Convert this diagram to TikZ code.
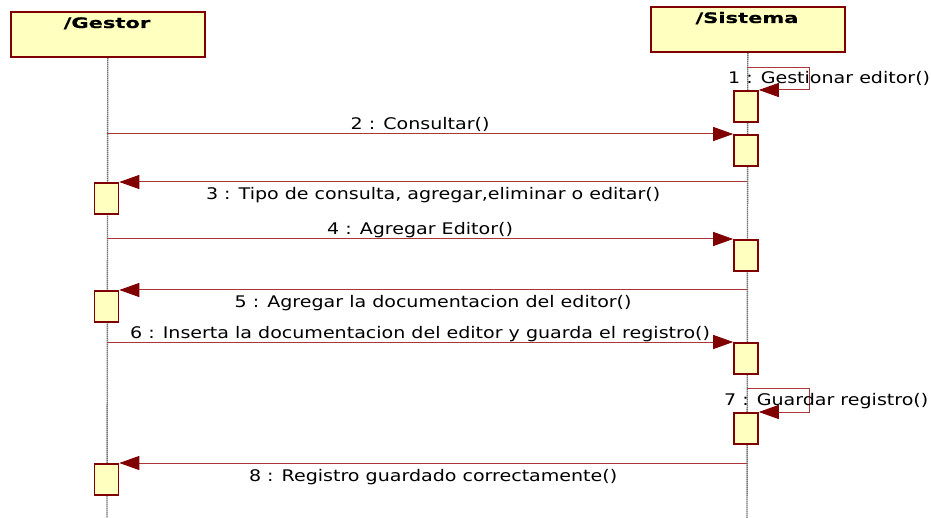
\documentclass[tikz,border=0pt]{standalone}
\usepackage{fontspec}
\setmainfont{DejaVu Sans}[FakeStretch=1.19]
\newfontfamily\titlefont{DejaVu Sans}[FakeStretch=1.45,FakeBold=0.6]
\usetikzlibrary{arrows.meta}
\definecolor{boxfill}{RGB}{255,255,192}
\definecolor{boxedge}{RGB}{128,0,0}
\definecolor{msgline}{RGB}{170,55,55}
\begin{document}
\begin{tikzpicture}[x=1pt,y=-1pt,
  actor/.style={draw=boxedge,fill=boxfill,line width=1.6pt,minimum width=194pt,
    minimum height=45pt,inner sep=0pt,anchor=north west},
  title/.style={font=\titlefont\bfseries\fontsize{14.5}{16}\selectfont,anchor=base},
  lifeline/.style={draw=black!85,line width=1.4pt,dash pattern=on 1pt off 1pt},
  actbox/.style={draw=boxedge,fill=boxfill,line width=1.6pt,minimum width=24pt,
    minimum height=31pt,inner sep=0pt,anchor=north},
  msg/.style={draw=msgline,line width=1pt,
    -{Triangle[length=20pt,width=14pt,fill=boxedge,color=boxedge]}},
  lbl/.style={font=\fontsize{16}{18}\selectfont,anchor=base,inner sep=0pt}]
\useasboundingbox (0,0) rectangle (931,518);

% participants
\node[actor] (gestor) at (10,11) {};
\node[actor] (sistema) at (650,6) {};
\node[title] at (107,28) {/Gestor};
\node[title] at (747,23) {/Sistema};

% lifelines
\coordinate (gl) at (107,518);
\coordinate (sl) at (747,518);
\draw[lifeline] (gestor.south) -- (gl);
\draw[lifeline] (sistema.south) -- (sl);

% activation bars
\node[actbox] (a1) at (746,90) {};
\node[actbox] (a2) at (746,134) {};
\node[actbox] (g3) at (106.5,182) {};
\node[actbox] (a4) at (746,239) {};
\node[actbox] (g5) at (106.5,290) {};
\node[actbox] (a6) at (746,342) {};
\node[actbox] (a7) at (746,412) {};
\node[actbox] (g8) at (106.5,463) {};

% 1: self call
\draw[msg] (sl |- 0,68) -- (809,68) -- (809,90) -- (a1.north east);
\node[lbl,anchor=base west] at (728,84) {1 : Gestionar editor()};

% 2
\draw[msg] (gl |- a2.north) -- (a2.north west)
  node[lbl,pos=0.5,yshift=4pt] {2 : Consultar()};

% 3
\draw[msg] (sl |- g3.north) -- (g3.north east)
  node[lbl,pos=0.5,yshift=-18pt] {3 : Tipo de consulta, agregar,eliminar o editar()};

% 4
\draw[msg] (gl |- a4.north) -- (a4.north west)
  node[lbl,pos=0.5,yshift=4pt] {4 : Agregar Editor()};

% 5
\draw[msg] (sl |- g5.north) -- (g5.north east)
  node[lbl,pos=0.5,yshift=-18pt] {5 : Agregar la documentacion del editor()};

% 6
\draw[msg] (gl |- a6.north) -- (a6.north west)
  node[lbl,pos=0.5,yshift=4pt] {6 : Inserta la documentacion del editor y guarda el registro()};

% 7: self call
\draw[msg] (sl |- 0,388) -- (809,388) -- (809,412) -- (a7.north east);
\node[lbl,anchor=base west] at (724,405) {7 : Guardar registro()};

% 8
\draw[msg] (sl |- g8.north) -- (g8.north east)
  node[lbl,pos=0.5,yshift=-18pt] {8 : Registro guardado correctamente()};
\end{tikzpicture}
\end{document}
